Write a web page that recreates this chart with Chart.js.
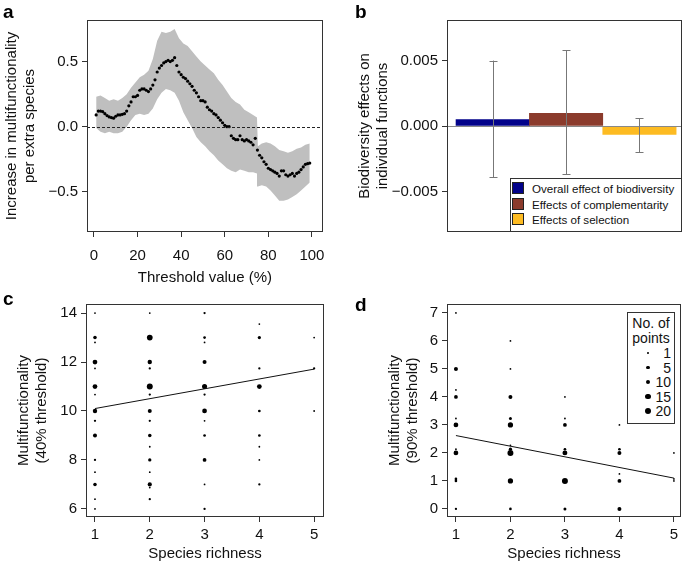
<!DOCTYPE html>
<html>
<head>
<meta charset="utf-8">
<script src="https://cdn.jsdelivr.net/npm/chart.js@4.4.1/dist/chart.umd.min.js"></script>
<style>
body { margin: 0; background: #fff; }
#wrap { position: relative; width: 685px; height: 567px; overflow: hidden; background: #fff;
        font-family: "Liberation Sans", Arial, Helvetica, sans-serif; color: #111; }
canvas { position: absolute; }
.plab { position: absolute; font-weight: bold; font-size: 19px; line-height: 19px; color: #000; }
.legbox { position: absolute; border: 1px solid #333; background: #fff; box-sizing: border-box; }
.legrow { position: absolute; white-space: nowrap; }
</style>
</head>
<body>
<div id="wrap">
  <canvas id="chartA" width="335" height="290" style="left:0;top:0"></canvas>
  <canvas id="chartB" width="345" height="290" style="left:340px;top:0"></canvas>
  <canvas id="chartC" width="340" height="277" style="left:0;top:290px"></canvas>
  <canvas id="chartD" width="345" height="277" style="left:340px;top:290px"></canvas>
  <div class="plab" style="left:3px;top:2px">a</div>
  <div class="plab" style="left:355px;top:2px">b</div>
  <div class="plab" style="left:3px;top:289px">c</div>
  <div class="plab" style="left:355px;top:295px">d</div>
  <div id="legB" class="legbox" style="left:510px;top:178px;width:172px;height:54px;font-size:11.6px"></div>
  <div id="legD" class="legbox" style="left:627px;top:312px;width:48px;height:112px;font-size:14px"></div>
</div>
<script>
// ---- panel a: slope of multifunctionality vs threshold ----
const threshold = [1,2,3,4,5,6,7,8,9,10,11,12,13,14,15,16,17,18,19,20,
  21,22,23,24,25,26,27,28,29,30,31,32,33,34,35,36,37,38,39,40,
  41,42,43,44,45,46,47,48,49,50,51,52,53,54,55,56,57,58,59,60,
  61,62,63,64,65,66,67,68,69,70,71,72,73,74,75,76,77,78,79,80,
  81,82,83,84,85,86,87,88,89,90,91,92,93,94,95,96,97,98,99];
const slope = [0.09,0.12,0.12,0.115,0.10,0.085,0.075,0.07,0.065,0.08,
  0.09,0.09,0.095,0.10,0.12,0.16,0.19,0.23,0.23,0.24,
  0.28,0.29,0.29,0.28,0.27,0.29,0.32,0.36,0.42,0.45,
  0.47,0.49,0.50,0.51,0.50,0.51,0.53,0.47,0.42,0.40,
  0.38,0.37,0.35,0.33,0.31,0.28,0.26,0.23,0.20,0.20,
  0.19,0.15,0.13,0.12,0.10,0.09,0.07,0.05,0.03,0.01,
  0.00,0.00,-0.07,-0.09,-0.10,-0.10,-0.07,-0.10,-0.11,-0.10,
  -0.11,-0.12,-0.14,-0.09,-0.18,-0.22,-0.24,-0.27,-0.29,-0.32,
  -0.33,-0.34,-0.35,-0.36,-0.38,-0.34,-0.34,-0.37,-0.38,-0.37,
  -0.36,-0.38,-0.36,-0.35,-0.33,-0.31,-0.29,-0.285,-0.28];
// confidence band, read at fewer thresholds
const bandX  = [1,3,5,7,9,11,13,15,17,19,21,23,25,27,29,31,33,35,37,39,41,43,45,47,49,51,53,55,57,59,61,63,65,67,69,71,73,74.8,75.2,77,79,81,83,85,87,89,91,93,95,97,99];
const bandHi = [0.23,0.24,0.22,0.20,0.21,0.20,0.22,0.25,0.30,0.34,0.38,0.40,0.43,0.52,0.66,0.73,0.72,0.73,0.75,0.68,0.64,0.62,0.58,0.54,0.50,0.47,0.44,0.41,0.36,0.32,0.27,0.22,0.19,0.17,0.13,0.11,0.09,0.07,-0.15,-0.13,-0.12,-0.13,-0.15,-0.18,-0.19,-0.20,-0.19,-0.17,-0.16,-0.14,-0.13];
const bandLo = [-0.01,-0.04,-0.05,-0.04,-0.05,-0.05,-0.04,0.00,0.05,0.09,0.10,0.09,0.10,0.14,0.21,0.26,0.29,0.28,0.26,0.20,0.11,0.05,-0.01,-0.08,-0.12,-0.15,-0.19,-0.22,-0.26,-0.29,-0.32,-0.34,-0.35,-0.33,-0.34,-0.35,-0.35,-0.36,-0.46,-0.45,-0.46,-0.49,-0.53,-0.57,-0.57,-0.56,-0.54,-0.52,-0.49,-0.46,-0.43];
const aTicksX = [0, 20, 40, 60, 80, 100];
const aTicksY = [-0.5, 0, 0.5];

// ---- panel b: biodiversity effects ----
const bLabels = ['Overall effect of biodiversity', 'Effects of complementarity', 'Effects of selection'];
const bPos = [1, 2, 3];
const bValues = [0.0005, 0.00097, -0.00064];
const bErrHi = [0.0050, 0.0058, 0.0006];
const bErrLo = [-0.0039, -0.0037, -0.0020];
const bColors = ['#02028a', '#8b3b2c', '#fdbb22'];
const bTicksY = [-0.005, 0, 0.005];

// ---- panel c: 40% threshold ----
const cRich = [1,1,1,1,1,1,1,1,1,1,1,1,1,1,1, 2,2,2,2,2,2,2,2,2,2,2,2,2,2,2, 3,3,3,3,3,3,3,3,3,3,3,3, 4,4,4,4,4,4,4,4,4, 5,5,5];
const cMulti = [14,13,12.8,12,11.74,11,10.67,10,9.6,9,8,7.5,7,6.4,6,
  14,13,12,11.74,11,10.67,10,9.6,9,8.54,8,7.5,7,6.87,6.4,
  14,13,12.8,12,11,10.67,10,9.6,9,8,7,6,
  13.55,13,11.74,11,10,9,8.54,8,7,
  13,11.74,10];
const cCount = [1,6,1,12,1,12,1,10,2,8,2,1,6,1,1,
  1,18,10,2,20,2,8,2,6,1,5,1,9,1,2,
  2,3,1,8,14,2,12,1,3,7,1,2,
  1,5,2,12,3,3,1,1,2,
  1,2,1];
const cFitX = [1, 5];
const cFitY = [10.1, 11.71];
const cTicksX = [1, 2, 3, 4, 5];
const cTicksY = [6, 8, 10, 12, 14];

// ---- panel d: 90% threshold ----
const dRich = [1,1,1,1,1,1,1,1,1,1,1, 2,2,2,2,2,2,2,2,2,2, 3,3,3,3,3,3,3, 4,4,4,4,4,4, 5,5,5];
const dMulti = [7,5,4.25,4,3.23,3,2.13,2,1.07,1,0,
  6,5,4,3.23,3,2.27,2.13,2,1,0,
  4,3.23,3,2.13,2,1,0,
  3,2.13,2,1.25,1,0,
  2,1.07,1];
const dCount = [1,8,1,7,1,12,1,12,3,3,2,
  1,1,8,4,15,1,5,20,15,3,
  1,1,7,3,13,20,4,
  1,3,8,1,7,8,
  1,1,1];
const dFitX = [1, 5];
const dFitY = [2.62, 1.1];
const dTicksX = [1, 2, 3, 4, 5];
const dTicksY = [0, 1, 2, 3, 4, 5, 6, 7];
const sizeKey = [1, 5, 10, 15, 20];

const FAM = '"Liberation Sans", Arial, Helvetica, sans-serif';
const rad = n => 0.3 + 0.6 * Math.sqrt(n);
const minus = s => s.replace('-', '\u2212');

function axis(pos, min, max, ticks, fit, fmt, title, tpad, tickPad) {
  return {
    type: 'linear', position: pos, min: min, max: max, offset: false,
    afterBuildTicks: s => { s.ticks = ticks.map(v => ({ value: v })); },
    afterFit: s => { if (pos === 'left') s.width = fit; else s.height = fit; },
    grid: { drawOnChartArea: false, tickLength: 5, color: '#333', tickColor: '#333' },
    border: { display: false },
    ticks: { font: { family: FAM, size: 15 }, color: '#111', padding: tickPad || 4,
             maxRotation: 0, autoSkip: false, callback: fmt },
    title: { display: true, text: title, color: '#111', padding: tpad,
             font: { family: FAM, size: 15, lineHeight: 1.2 } }
  };
}

const frame = {
  id: 'frame',
  afterDraw(chart) {
    const { ctx, chartArea: a } = chart;
    ctx.save();
    ctx.strokeStyle = '#333';
    ctx.lineWidth = 1;
    ctx.strokeRect(Math.round(a.left) + 0.5, Math.round(a.top) + 0.5,
                   Math.round(a.right - a.left) - 1, Math.round(a.bottom - a.top) - 1);
    ctx.restore();
  }
};

const zeroLine = {
  id: 'zeroLine',
  afterDatasetsDraw(chart, args, opts) {
    const { ctx, chartArea: a } = chart;
    const y = Math.round(chart.scales.y.getPixelForValue(0)) + 0.5;
    ctx.save();
    ctx.strokeStyle = opts.color;
    ctx.lineWidth = 1;
    ctx.setLineDash(opts.dash || []);
    ctx.beginPath();
    ctx.moveTo(a.left, y);
    ctx.lineTo(a.right, y);
    ctx.stroke();
    ctx.restore();
  }
};

const errBars = {
  id: 'errBars',
  afterDatasetsDraw(chart) {
    const { ctx, scales: { x, y } } = chart;
    ctx.save();
    ctx.strokeStyle = '#777';
    ctx.lineWidth = 1;
    bPos.forEach((p, i) => {
      const px = Math.round(x.getPixelForValue(p)) + 0.5;
      const top = y.getPixelForValue(bErrHi[i]);
      const bot = y.getPixelForValue(bErrLo[i]);
      ctx.beginPath();
      ctx.moveTo(px, top); ctx.lineTo(px, bot);
      ctx.moveTo(px - 4, Math.round(top) + 0.5); ctx.lineTo(px + 4, Math.round(top) + 0.5);
      ctx.moveTo(px - 4, Math.round(bot) + 0.5); ctx.lineTo(px + 4, Math.round(bot) + 0.5);
      ctx.stroke();
    });
    ctx.restore();
  }
};

const base = { responsive: false, animation: false, events: [] };

// panel a
new Chart(document.getElementById('chartA'), {
  type: 'line',
  data: {
    datasets: [
      { data: bandX.map((x, i) => ({ x: x, y: bandHi[i] })), fill: '+1', order: 2,
        backgroundColor: '#bfbfbf', borderWidth: 0, pointRadius: 0, tension: 0 },
      { data: bandX.map((x, i) => ({ x: x, y: bandLo[i] })), fill: false, order: 3,
        borderWidth: 0, pointRadius: 0 },
      { data: threshold.map((x, i) => ({ x: x, y: slope[i] })), showLine: false, order: 0,
        pointRadius: 1.6, pointBackgroundColor: '#000', pointBorderWidth: 0 }
    ]
  },
  options: Object.assign({}, base, {
    layout: { padding: { top: 20, right: 12, bottom: 0, left: 0 } },
    plugins: { legend: { display: false }, tooltip: { enabled: false },
               zeroLine: { color: '#222', dash: [3, 2] } },
    scales: {
      x: axis('bottom', -3.2, 105, aTicksX, 58, v => String(v), 'Threshold value (%)', { top: 0, bottom: 3 }, 10),
      y: axis('left', -0.81, 0.82, aTicksY, 87, v => minus(v.toFixed(1)),
              ['Increase in multifunctionality', 'per extra species'], { top: 3, bottom: 0 })
    }
  }),
  plugins: [frame, zeroLine]
});

// panel b
const bx = axis('bottom', 0.377, 3.58, bPos, 0, v => '', '', 0);
bx.display = false;
new Chart(document.getElementById('chartB'), {
  type: 'bar',
  data: {
    datasets: [{
      data: bPos.map((p, i) => ({ x: p, y: bValues[i] })),
      backgroundColor: bColors, borderWidth: 0,
      barPercentage: 1, categoryPercentage: 1
    }]
  },
  options: Object.assign({}, base, {
    layout: { padding: { top: 20, right: 3, bottom: 58, left: 0 } },
    plugins: { legend: { display: false }, tooltip: { enabled: false },
               zeroLine: { color: '#888', dash: [] } },
    scales: {
      x: bx,
      y: axis('left', -0.0081, 0.0081, bTicksY, 107, v => minus(v.toFixed(3)),
              ['Biodiversity effects on', 'individual functions'], { top: 16, bottom: 0 })
    }
  }),
  plugins: [frame, zeroLine, errBars]
});

function scatterPanel(id, rich, multi, count, fitX, fitY, xs, ys, ymin, ymax, xmax, yw, ytitle, ypad, right) {
  new Chart(document.getElementById(id), {
    type: 'scatter',
    data: {
      datasets: [
        { type: 'line', data: fitX.map((x, i) => ({ x: x, y: fitY[i] })),
          borderColor: '#111', borderWidth: 1, pointRadius: 0, fill: false },
        { data: rich.map((x, i) => ({ x: x, y: multi[i] })),
          pointRadius: count.map(rad), pointBackgroundColor: '#000', pointBorderWidth: 0 }
      ]
    },
    options: Object.assign({}, base, {
      layout: { padding: { top: 14, right: right, bottom: 0, left: 0 } },
      plugins: { legend: { display: false }, tooltip: { enabled: false } },
      scales: {
        x: axis('bottom', 0.836, xmax, xs, 50, v => String(v), 'Species richness', { top: 0, bottom: 4 }),
        y: axis('left', ymin, ymax, ys, yw, v => String(v), ytitle, ypad)
      }
    }),
    plugins: [frame]
  });
}

scatterPanel('chartC', cRich, cMulti, cCount, cFitX, cFitY, cTicksX, cTicksY, 5.67, 14.37, 5.18, 86,
  ['Multifunctionality', '(40% threshold)'], { top: 15, bottom: 0 }, 16);
scatterPanel('chartD', dRich, dMulti, dCount, dFitX, dFitY, dTicksX, dTicksY, -0.29, 7.32, 5.13, 107,
  ['Multifunctionality', '(90% threshold)'], { top: 46, bottom: 0 }, 3);

// legend of panel b
const legB = document.getElementById('legB');
bLabels.forEach((t, i) => {
  const row = document.createElement('div');
  row.className = 'legrow';
  row.style.left = '1px';
  row.style.top = (3 + i * 15.5) + 'px';
  row.style.lineHeight = '14px';
  row.innerHTML = '<span style="display:inline-block;width:10px;height:10px;border:1px solid #222;' +
    'background:' + bColors[i] + ';vertical-align:-1px;margin-right:8px"></span>' + t;
  legB.appendChild(row);
});

// legend of panel d (size key)
const legD = document.getElementById('legD');
['No. of', 'points'].forEach((t, i) => {
  const row = document.createElement('div');
  row.className = 'legrow';
  row.style.left = '0'; row.style.width = '46px'; row.style.textAlign = 'center';
  row.style.top = (2 + i * 15) + 'px'; row.style.lineHeight = '16px';
  row.textContent = t;
  legD.appendChild(row);
});
sizeKey.forEach((n, i) => {
  const cy = 40 + i * 14.5;
  const r = rad(n);
  const dot = document.createElement('div');
  dot.style.cssText = 'position:absolute;background:#000;border-radius:50%;left:' + (20 - r) + 'px;top:' +
    (cy - r) + 'px;width:' + (2 * r) + 'px;height:' + (2 * r) + 'px';
  legD.appendChild(dot);
  const lab = document.createElement('div');
  lab.className = 'legrow';
  lab.style.right = '3px'; lab.style.top = (cy - 8) + 'px'; lab.style.lineHeight = '16px';
  lab.textContent = String(n);
  legD.appendChild(lab);
});
</script>
</body>
</html>
